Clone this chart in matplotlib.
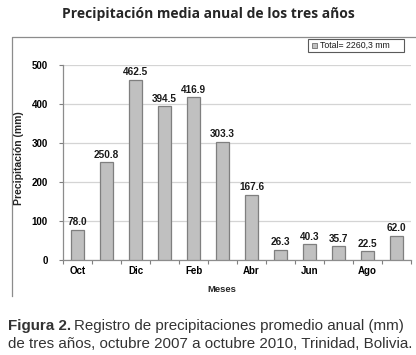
import numpy as np
import matplotlib.pyplot as plt
from matplotlib.lines import Line2D
from matplotlib.patches import Rectangle

meses = ['Oct', 'Nov', 'Dic', 'Ene', 'Feb', 'Mar', 'Abr', 'May', 'Jun', 'Jul', 'Ago', 'Sep']
precipitacion = [78.0, 250.8, 462.5, 394.5, 416.9, 303.3, 167.6, 26.3, 40.3, 35.7, 22.5, 62.0]
total_label = 'Total= 2260,3 mm'
y_ticks = [0, 100, 200, 300, 400, 500]

W, H = 416, 355
fig = plt.figure(figsize=(W / 100, H / 100), dpi=100)
fig.patch.set_facecolor('white')


def px(x0, y0, x1, y1):
    # pixel box (top-left origin) -> figure fraction
    return [x0 / W, 1 - y1 / H, (x1 - x0) / W, (y1 - y0) / H]


ax = fig.add_axes(px(63, 65, 411, 260))
x = np.arange(len(meses))
ax.bar(x, precipitacion, width=0.43, color='#c0c0c0', edgecolor='#7f7f7f',
       linewidth=0.9, zorder=3)
for xi, v in zip(x, precipitacion):
    ax.text(xi, v + 6, f'{v:.1f}', ha='center', va='bottom', fontsize=7.2,
            fontweight='bold', family='Liberation Sans', color='#1a1a1a')

ax.set_xlim(-0.5, len(meses) - 0.5)
ax.set_ylim(0, 500)
ax.set_yticks(y_ticks)
ax.set_yticklabels([str(t) for t in y_ticks], fontsize=7, fontweight='bold',
                   family='Liberation Sans')
ax.set_xticks(np.arange(-0.5, len(meses), 1.0))
ax.set_xticklabels([])
ax.set_xticks(x[::2], minor=True)
ax.set_xticklabels(meses[::2], minor=True, fontsize=7, fontweight='bold',
                   family='Liberation Sans')
ax.tick_params(axis='x', which='major', length=3, color='#7f7f7f', width=0.8)
ax.tick_params(axis='x', which='minor', length=0, pad=4)
ax.tick_params(axis='y', length=3, color='#7f7f7f', width=0.8, pad=8)
ax.grid(axis='y', color='#d4d4d4', linewidth=0.9, zorder=0)
for s in ['top', 'right']:
    ax.spines[s].set_visible(False)
for s in ['left', 'bottom']:
    ax.spines[s].set_color('#8c8c8c')
    ax.spines[s].set_linewidth(0.9)

# axis titles placed in figure pixels
fig.text(19 / W, 1 - 158 / H, 'Precipitación (mm)', rotation=90, fontsize=7.5,
         fontweight='bold', family='Liberation Sans', ha='center', va='center',
         color='#262626')
fig.text(222 / W, 1 - 290 / H, 'Meses', fontsize=6.8, fontweight='bold',
         family='Liberation Sans', ha='center', va='center', color='#262626')

# outer chart frame
fig.add_artist(Line2D([12 / W, 12 / W, 1.0], [1 - 296 / H, 1 - 37 / H, 1 - 37 / H],
                      transform=fig.transFigure, color='#8c8c8c', linewidth=0.9))

# legend box
fig.add_artist(Rectangle((308 / W, 1 - 52 / H), 96 / W, 13 / H, transform=fig.transFigure,
                         facecolor='white', edgecolor='#5a5a5a', linewidth=0.8))
fig.add_artist(Rectangle((312 / W, 1 - 48 / H), 5 / W, 5 / H, transform=fig.transFigure,
                         facecolor='#c0c0c0', edgecolor='#6f6f6f', linewidth=0.6))
fig.text(320 / W, 1 - 45.5 / H, total_label, fontsize=6.3, family='Liberation Sans',
         va='center', ha='left', color='#1a1a1a')

fig.text(208 / W, 1 - 14 / H, 'Precipitación media anual de los tres años',
         fontsize=10, fontweight='bold', family='Open Sans', ha='center', va='center',
         color='#262626')

cap1 = fig.text(8 / W, 1 - 326 / H, 'Figura 2.', fontsize=10.9, family='Liberation Sans',
                fontweight='bold', ha='left', va='center', color='#333333')
fig.canvas.draw()
bb = cap1.get_window_extent()
fig.text((bb.x1 + 3) / W, 1 - 326 / H, 'Registro de precipitaciones promedio anual (mm)',
         fontsize=10.9, family='Liberation Sans', ha='left', va='center', color='#333333')
fig.text(8 / W, 1 - 344 / H, 'de tres años, octubre 2007 a octubre 2010, Trinidad, Bolivia.',
         fontsize=10.9, family='Liberation Sans', ha='left', va='center', color='#333333')

fig.savefig('out.png', dpi=100)
